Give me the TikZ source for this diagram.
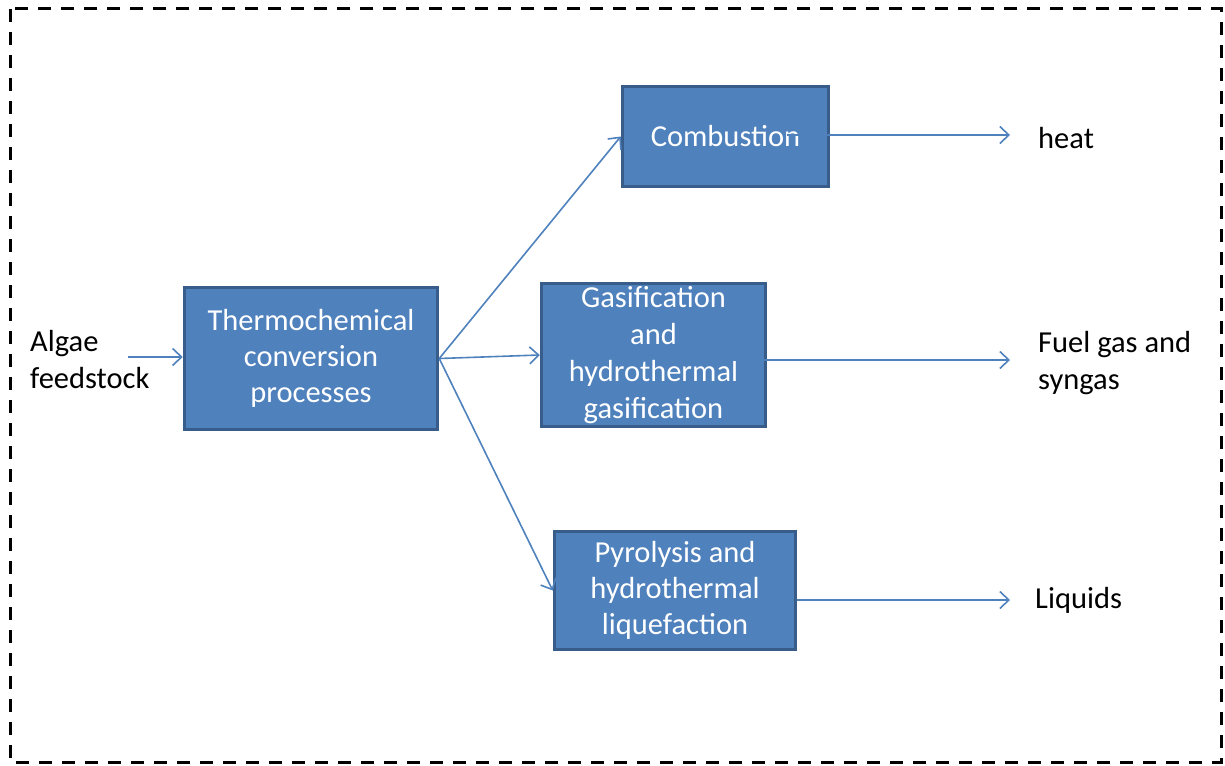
\documentclass[tikz,border=0pt]{standalone}
\usepackage{fontspec}
\setmainfont{Carlito}
\usetikzlibrary{arrows.meta}
\definecolor{boxfill}{HTML}{4F81BD}
\definecolor{boxedge}{HTML}{385D8A}
\definecolor{flowblue}{HTML}{4F81BD}
\begin{document}
\begin{tikzpicture}[x=1pt,y=-1pt,
  box/.style={draw=boxedge,fill=boxfill,line width=3.5pt,text=white,align=center,
    font=\fontsize{30.5}{36}\selectfont,inner sep=0pt},
  label/.style={font=\fontsize{30.5}{37}\selectfont,align=left,inner sep=0pt,anchor=west},
  flow/.style={draw=flowblue,line width=1.6pt,-{Straight Barb[length=9pt,width=17pt]}}]
\useasboundingbox (0,0) rectangle (1225,765);
% dashed frame
\draw[line width=3pt,dash pattern=on 13pt off 10pt] (10,9) rectangle (1221,762);

% process boxes
\node[box,minimum width=253,minimum height=142] (thermo) at (311,358.5)
  {Thermochemical\\conversion\\processes};
\node[box,minimum width=206,minimum height=100] (comb) at (725.5,136.5)
  {Combustion};
\node[box,minimum width=224,minimum height=143] (gas) at (653.5,355)
  {Gasification\\[1pt]and\\[1pt]hydrothermal\\[1pt]gasification};
\node[box,minimum width=241,minimum height=118] (pyro) at (675,590.5)
  {Pyrolysis and\\hydrothermal\\liquefaction};

% input and product labels
\node[label] (algae) at (30,360) {Algae\\feedstock};
\node[label] (heat) at (1038,138) {heat};
\node[label] (fuel) at (1038,363.5) {Fuel gas and\\syngas};
\node[label] (liq) at (1035,600) {Liquids};

% connector end points
\coordinate (ain) at (128,357);
\coordinate (c1) at (787,135);
\coordinate (g1) at (703,360);
\coordinate (p1) at (797,600);

% connectors
\draw[flow] (ain) -- (thermo.west |- ain);
\draw[flow] (thermo.east) -- (comb.west);
\draw[flow] (thermo.east) -- (gas.west);
\draw[flow] (thermo.east) -- (pyro.west);
\draw[flow,shorten >=28pt] (c1) -- (c1 -| heat.west);
\draw[flow,shorten >=28pt] (g1) -- (g1 -| fuel.west);
\draw[flow,shorten >=25pt] (p1) -- (p1 -| liq.west);
\end{tikzpicture}
\end{document}
